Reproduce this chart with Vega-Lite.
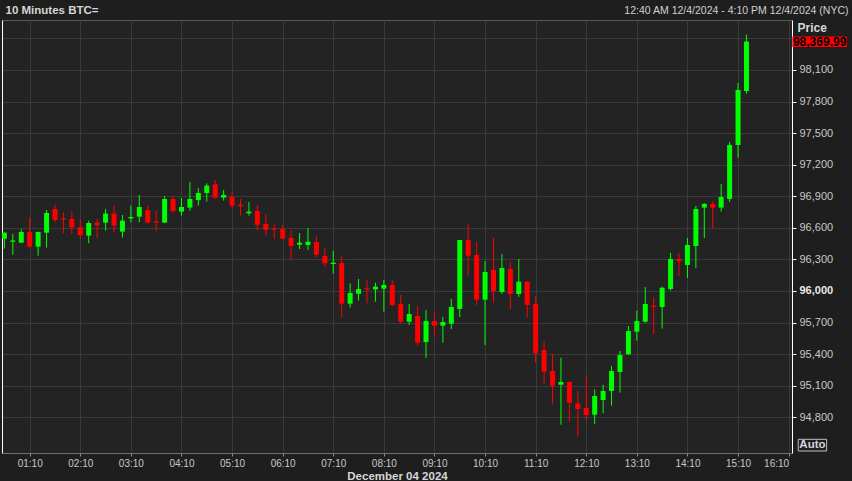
{
  "$schema": "https://vega.github.io/schema/vega-lite/v6.json",
  "width": 790,
  "height": 433,
  "autosize": {"type": "none"},
  "padding": {"left": 2, "top": 20, "right": 60, "bottom": 28},
  "background": "#1e1e1e",
  "config": {"view": {"fill": "#232323", "stroke": "#5a5a5a", "strokeWidth": 1}},
  "data": {"values": [
    {"t": "2024-12-04T00:40:00Z", "o": 96497, "h": 96556, "l": 96402, "c": 96554},
    {"t": "2024-12-04T00:50:00Z", "o": 96468, "h": 96541, "l": 96345, "c": 96480},
    {"t": "2024-12-04T01:00:00Z", "o": 96459, "h": 96586, "l": 96456, "c": 96560},
    {"t": "2024-12-04T01:10:00Z", "o": 96560, "h": 96697, "l": 96411, "c": 96421},
    {"t": "2024-12-04T01:20:00Z", "o": 96421, "h": 96563, "l": 96335, "c": 96560},
    {"t": "2024-12-04T01:30:00Z", "o": 96554, "h": 96769, "l": 96411, "c": 96741},
    {"t": "2024-12-04T01:40:00Z", "o": 96779, "h": 96820, "l": 96652, "c": 96674},
    {"t": "2024-12-04T01:50:00Z", "o": 96690, "h": 96747, "l": 96548, "c": 96678},
    {"t": "2024-12-04T02:00:00Z", "o": 96684, "h": 96760, "l": 96538, "c": 96605},
    {"t": "2024-12-04T02:10:00Z", "o": 96605, "h": 96681, "l": 96494, "c": 96529},
    {"t": "2024-12-04T02:20:00Z", "o": 96526, "h": 96668, "l": 96453, "c": 96646},
    {"t": "2024-12-04T02:30:00Z", "o": 96649, "h": 96684, "l": 96503, "c": 96624},
    {"t": "2024-12-04T02:40:00Z", "o": 96649, "h": 96779, "l": 96573, "c": 96735},
    {"t": "2024-12-04T02:50:00Z", "o": 96735, "h": 96811, "l": 96554, "c": 96621},
    {"t": "2024-12-04T03:00:00Z", "o": 96564, "h": 96722, "l": 96507, "c": 96668},
    {"t": "2024-12-04T03:10:00Z", "o": 96690, "h": 96811, "l": 96652, "c": 96703},
    {"t": "2024-12-04T03:20:00Z", "o": 96706, "h": 96912, "l": 96652, "c": 96798},
    {"t": "2024-12-04T03:30:00Z", "o": 96769, "h": 96811, "l": 96643, "c": 96649},
    {"t": "2024-12-04T03:40:00Z", "o": 96661, "h": 96763, "l": 96570, "c": 96649},
    {"t": "2024-12-04T03:50:00Z", "o": 96649, "h": 96903, "l": 96646, "c": 96874},
    {"t": "2024-12-04T04:00:00Z", "o": 96874, "h": 96906, "l": 96747, "c": 96760},
    {"t": "2024-12-04T04:10:00Z", "o": 96754, "h": 96884, "l": 96716, "c": 96798},
    {"t": "2024-12-04T04:20:00Z", "o": 96792, "h": 97036, "l": 96763, "c": 96874},
    {"t": "2024-12-04T04:30:00Z", "o": 96864, "h": 96979, "l": 96811, "c": 96931},
    {"t": "2024-12-04T04:40:00Z", "o": 96931, "h": 97023, "l": 96849, "c": 97001},
    {"t": "2024-12-04T04:50:00Z", "o": 97014, "h": 97055, "l": 96880, "c": 96887},
    {"t": "2024-12-04T05:00:00Z", "o": 96887, "h": 96960, "l": 96858, "c": 96912},
    {"t": "2024-12-04T05:10:00Z", "o": 96893, "h": 96937, "l": 96785, "c": 96811},
    {"t": "2024-12-04T05:20:00Z", "o": 96820, "h": 96874, "l": 96716, "c": 96806},
    {"t": "2024-12-04T05:30:00Z", "o": 96738, "h": 96845, "l": 96716, "c": 96754},
    {"t": "2024-12-04T05:40:00Z", "o": 96760, "h": 96817, "l": 96579, "c": 96630},
    {"t": "2024-12-04T05:50:00Z", "o": 96637, "h": 96731, "l": 96526, "c": 96579},
    {"t": "2024-12-04T06:00:00Z", "o": 96594, "h": 96633, "l": 96494, "c": 96582},
    {"t": "2024-12-04T06:10:00Z", "o": 96589, "h": 96627, "l": 96491, "c": 96497},
    {"t": "2024-12-04T06:20:00Z", "o": 96503, "h": 96576, "l": 96301, "c": 96427},
    {"t": "2024-12-04T06:30:00Z", "o": 96440, "h": 96551, "l": 96399, "c": 96459},
    {"t": "2024-12-04T06:40:00Z", "o": 96437, "h": 96598, "l": 96389, "c": 96468},
    {"t": "2024-12-04T06:50:00Z", "o": 96465, "h": 96526, "l": 96316, "c": 96345},
    {"t": "2024-12-04T07:00:00Z", "o": 96332, "h": 96408, "l": 96231, "c": 96263},
    {"t": "2024-12-04T07:10:00Z", "o": 96256, "h": 96380, "l": 96164, "c": 96269},
    {"t": "2024-12-04T07:20:00Z", "o": 96266, "h": 96329, "l": 95746, "c": 95879},
    {"t": "2024-12-04T07:30:00Z", "o": 95879, "h": 96072, "l": 95841, "c": 95981},
    {"t": "2024-12-04T07:40:00Z", "o": 95974, "h": 96114, "l": 95908, "c": 96019},
    {"t": "2024-12-04T07:50:00Z", "o": 96025, "h": 96104, "l": 95882, "c": 96013},
    {"t": "2024-12-04T08:00:00Z", "o": 96015, "h": 96079, "l": 95898, "c": 96041},
    {"t": "2024-12-04T08:10:00Z", "o": 96022, "h": 96104, "l": 95803, "c": 96057},
    {"t": "2024-12-04T08:20:00Z", "o": 96057, "h": 96104, "l": 95854, "c": 95867},
    {"t": "2024-12-04T08:30:00Z", "o": 95876, "h": 95962, "l": 95689, "c": 95708},
    {"t": "2024-12-04T08:40:00Z", "o": 95708, "h": 95876, "l": 95676, "c": 95781},
    {"t": "2024-12-04T08:50:00Z", "o": 95762, "h": 95857, "l": 95477, "c": 95509},
    {"t": "2024-12-04T09:00:00Z", "o": 95515, "h": 95819, "l": 95366, "c": 95714},
    {"t": "2024-12-04T09:10:00Z", "o": 95714, "h": 95800, "l": 95566, "c": 95670},
    {"t": "2024-12-04T09:20:00Z", "o": 95670, "h": 95753, "l": 95509, "c": 95705},
    {"t": "2024-12-04T09:30:00Z", "o": 95689, "h": 95924, "l": 95638, "c": 95848},
    {"t": "2024-12-04T09:40:00Z", "o": 95829, "h": 96486, "l": 95752, "c": 96484},
    {"t": "2024-12-04T09:50:00Z", "o": 96484, "h": 96636, "l": 96145, "c": 96335},
    {"t": "2024-12-04T10:00:00Z", "o": 96342, "h": 96465, "l": 95867, "c": 95917},
    {"t": "2024-12-04T10:10:00Z", "o": 95917, "h": 96285, "l": 95486, "c": 96180},
    {"t": "2024-12-04T10:20:00Z", "o": 96199, "h": 96503, "l": 95886, "c": 95999},
    {"t": "2024-12-04T10:30:00Z", "o": 95990, "h": 96351, "l": 95971, "c": 96218},
    {"t": "2024-12-04T10:40:00Z", "o": 96209, "h": 96278, "l": 95829, "c": 95971},
    {"t": "2024-12-04T10:50:00Z", "o": 95971, "h": 96304, "l": 95943, "c": 96088},
    {"t": "2024-12-04T11:00:00Z", "o": 96088, "h": 96095, "l": 95749, "c": 95867},
    {"t": "2024-12-04T11:10:00Z", "o": 95876, "h": 95952, "l": 95318, "c": 95407},
    {"t": "2024-12-04T11:20:00Z", "o": 95439, "h": 95524, "l": 95119, "c": 95233},
    {"t": "2024-12-04T11:30:00Z", "o": 95239, "h": 95404, "l": 94929, "c": 95100},
    {"t": "2024-12-04T11:40:00Z", "o": 95109, "h": 95366, "l": 94729, "c": 95135},
    {"t": "2024-12-04T11:50:00Z", "o": 95135, "h": 95140, "l": 94761, "c": 94938},
    {"t": "2024-12-04T12:00:00Z", "o": 94929, "h": 95049, "l": 94615, "c": 94878},
    {"t": "2024-12-04T12:10:00Z", "o": 94888, "h": 95201, "l": 94774, "c": 94821},
    {"t": "2024-12-04T12:20:00Z", "o": 94824, "h": 95065, "l": 94736, "c": 95002},
    {"t": "2024-12-04T12:30:00Z", "o": 94964, "h": 95109, "l": 94837, "c": 95049},
    {"t": "2024-12-04T12:40:00Z", "o": 95049, "h": 95287, "l": 94910, "c": 95239},
    {"t": "2024-12-04T12:50:00Z", "o": 95230, "h": 95429, "l": 95033, "c": 95391},
    {"t": "2024-12-04T13:00:00Z", "o": 95398, "h": 95667, "l": 95391, "c": 95619},
    {"t": "2024-12-04T13:10:00Z", "o": 95613, "h": 95813, "l": 95528, "c": 95714},
    {"t": "2024-12-04T13:20:00Z", "o": 95708, "h": 96038, "l": 95695, "c": 95876},
    {"t": "2024-12-04T13:30:00Z", "o": 95860, "h": 95939, "l": 95591, "c": 95848},
    {"t": "2024-12-04T13:40:00Z", "o": 95848, "h": 96041, "l": 95642, "c": 96031},
    {"t": "2024-12-04T13:50:00Z", "o": 96019, "h": 96361, "l": 96003, "c": 96304},
    {"t": "2024-12-04T14:00:00Z", "o": 96304, "h": 96361, "l": 96142, "c": 96282},
    {"t": "2024-12-04T14:10:00Z", "o": 96247, "h": 96503, "l": 96123, "c": 96437},
    {"t": "2024-12-04T14:20:00Z", "o": 96427, "h": 96808, "l": 96218, "c": 96779},
    {"t": "2024-12-04T14:30:00Z", "o": 96792, "h": 96836, "l": 96503, "c": 96827},
    {"t": "2024-12-04T14:40:00Z", "o": 96827, "h": 96852, "l": 96598, "c": 96792},
    {"t": "2024-12-04T14:50:00Z", "o": 96792, "h": 97017, "l": 96754, "c": 96893},
    {"t": "2024-12-04T15:00:00Z", "o": 96874, "h": 97416, "l": 96846, "c": 97387},
    {"t": "2024-12-04T15:10:00Z", "o": 97387, "h": 97977, "l": 97267, "c": 97910},
    {"t": "2024-12-04T15:20:00Z", "o": 97900, "h": 98436, "l": 97875, "c": 98369.99}
  ]},
  "layer": [
    {
      "mark": {"type": "rule", "strokeWidth": 1},
      "encoding": {
        "x": {
          "field": "t", "type": "temporal",
          "scale": {"type": "utc", "padding": 0, "nice": false, "domain": [
            {"year": 2024, "month": 12, "date": 4, "hours": 0, "minutes": 37, "seconds": 10, "utc": true},
            {"year": 2024, "month": 12, "date": 4, "hours": 16, "minutes": 14, "seconds": 0, "utc": true}
          ]},
          "axis": {
            "orient": "bottom",
            "values": [
              {"year": 2024, "month": 12, "date": 4, "hours": 1, "minutes": 10, "utc": true},
              {"year": 2024, "month": 12, "date": 4, "hours": 2, "minutes": 10, "utc": true},
              {"year": 2024, "month": 12, "date": 4, "hours": 3, "minutes": 10, "utc": true},
              {"year": 2024, "month": 12, "date": 4, "hours": 4, "minutes": 10, "utc": true},
              {"year": 2024, "month": 12, "date": 4, "hours": 5, "minutes": 10, "utc": true},
              {"year": 2024, "month": 12, "date": 4, "hours": 6, "minutes": 10, "utc": true},
              {"year": 2024, "month": 12, "date": 4, "hours": 7, "minutes": 10, "utc": true},
              {"year": 2024, "month": 12, "date": 4, "hours": 8, "minutes": 10, "utc": true},
              {"year": 2024, "month": 12, "date": 4, "hours": 9, "minutes": 10, "utc": true},
              {"year": 2024, "month": 12, "date": 4, "hours": 10, "minutes": 10, "utc": true},
              {"year": 2024, "month": 12, "date": 4, "hours": 11, "minutes": 10, "utc": true},
              {"year": 2024, "month": 12, "date": 4, "hours": 12, "minutes": 10, "utc": true},
              {"year": 2024, "month": 12, "date": 4, "hours": 13, "minutes": 10, "utc": true},
              {"year": 2024, "month": 12, "date": 4, "hours": 14, "minutes": 10, "utc": true},
              {"year": 2024, "month": 12, "date": 4, "hours": 15, "minutes": 10, "utc": true},
              {"year": 2024, "month": 12, "date": 4, "hours": 16, "minutes": 10, "utc": true}
            ],
            "labelExpr": "utcFormat(datum.value, '%H:%M')",
            "grid": true, "gridColor": "#3a3a3a", "gridWidth": 1,
            "domainColor": "#707070", "tickColor": "#8a8a8a", "tickSize": 3,
            "labelPadding": 2, "labelColor": "#c8c8c8", "labelFont": "Liberation Sans Narrow, Liberation Sans", "labelFontSize": 10,
            "labelFlush": 5, "labelOverlap": false,
            "title": "December 04 2024", "titleFont": "Liberation Sans Narrow, Liberation Sans", "titleFontSize": 11.5, "titleFontWeight": "bold", "titleColor": "#d6d6d6", "titlePadding": 2
          }
        },
        "y": {
          "field": "l", "type": "quantitative",
          "scale": {"domain": [94460, 98575], "nice": false, "zero": false, "padding": 0},
          "axis": {
            "orient": "right",
            "values": [94800, 95100, 95400, 95700, 96000, 96300, 96600, 96900, 97200, 97500, 97800, 98100, 98400],
            "labelExpr": "datum.value > 98200 ? '' : format(datum.value, ',')",
            "grid": true, "gridColor": "#3a3a3a", "gridWidth": 1,
            "domainColor": "#ffffff", "tickColor": "#ffffff", "tickSize": 4,
            "labelPadding": 3, "labelColor": {"expr": "datum.value == 96000 ? '#e8e8e8' : '#c8c8c8'"},
            "labelFont": "Liberation Sans", "labelFontSize": 11,
            "labelFontWeight": {"expr": "datum.value == 96000 ? 'bold' : 'normal'"},
            "title": "Price", "titleAngle": 0, "titleX": 5, "titleY": 7, "titleAlign": "left", "titleBaseline": "middle",
            "titleFont": "Liberation Sans", "titleFontSize": 12, "titleFontWeight": "bold", "titleColor": "#d6d6d6"
          }
        },
        "y2": {"field": "h"},
        "color": {"condition": {"test": "datum.c >= datum.o", "value": "#00ff00"}, "value": "#ff0000"}
      }
    },
    {
      "mark": {"type": "bar", "width": 5},
      "encoding": {
        "x": {
          "field": "t", "type": "temporal",
          "axis": {
            "orient": "top", "labels": false, "ticks": false, "domain": false, "grid": false,
            "title": "12:40 AM 12/4/2024 - 4:10 PM 12/4/2024 (NYC)",
            "titleX": 846, "titleY": -10, "titleAlign": "right", "titleBaseline": "middle", "titleAnchor": null,
            "titleFont": "Liberation Sans", "titleFontSize": 10.5, "titleFontWeight": "normal", "titleColor": "#d0d0d0"
          }
        },
        "y": {
          "field": "o", "type": "quantitative",
          "axis": {
            "orient": "left", "labels": false, "ticks": false, "grid": false, "domainColor": "#ffffff",
            "title": "10 Minutes BTC=", "titleAngle": 0, "titleX": 3, "titleY": -10, "titleAlign": "left", "titleBaseline": "middle", "titleAnchor": null,
            "titleFont": "Liberation Sans", "titleFontSize": 11.5, "titleFontWeight": "bold", "titleColor": "#d6d6d6"
          }
        },
        "y2": {"field": "c"},
        "color": {"condition": {"test": "datum.c >= datum.o", "value": "#00ff00"}, "value": "#ff0000"}
      }
    },
    {
      "data": {"values": [{}]},
      "mark": {"type": "rect", "color": "#ff0000"},
      "encoding": {
        "x": {"datum": {"year": 2024, "month": 12, "date": 4, "hours": 16, "minutes": 14, "seconds": 20, "utc": true}, "type": "temporal", "axis": null},
        "x2": {"datum": {"year": 2024, "month": 12, "date": 4, "hours": 17, "minutes": 19, "seconds": 8, "utc": true}},
        "y": {"datum": 98318, "type": "quantitative", "axis": null},
        "y2": {"datum": 98418}
      }
    },
    {
      "data": {"values": [{}]},
      "mark": {"type": "text", "align": "left", "baseline": "middle", "font": "Liberation Sans", "fontSize": 12, "fontWeight": "bold", "color": "#000000"},
      "encoding": {
        "x": {"datum": {"year": 2024, "month": 12, "date": 4, "hours": 16, "minutes": 15, "seconds": 6, "utc": true}, "type": "temporal", "axis": null},
        "y": {"datum": 98369.99, "type": "quantitative", "axis": null},
        "text": {"datum": 98369.99, "type": "quantitative", "format": ",.2f"}
      }
    },
    {
      "data": {"values": [{}]},
      "mark": {"type": "rect", "fill": "#1e1e1e", "stroke": "#c0c0c0", "strokeWidth": 1},
      "encoding": {
        "x": {"datum": {"year": 2024, "month": 12, "date": 4, "hours": 16, "minutes": 21, "seconds": 24, "utc": true}, "type": "temporal", "axis": null},
        "x2": {"datum": {"year": 2024, "month": 12, "date": 4, "hours": 16, "minutes": 55, "seconds": 3, "utc": true}},
        "y": {"datum": 94479, "type": "quantitative", "axis": null},
        "y2": {"datum": 94590}
      }
    },
    {
      "data": {"values": [{}]},
      "mark": {"type": "text", "align": "center", "baseline": "middle", "font": "Liberation Sans", "fontSize": 11.5, "fontWeight": "bold", "color": "#d4d4dc"},
      "encoding": {
        "x": {"datum": {"year": 2024, "month": 12, "date": 4, "hours": 16, "minutes": 38, "seconds": 14, "utc": true}, "type": "temporal", "axis": null},
        "y": {"datum": 94536, "type": "quantitative", "axis": null},
        "text": {"value": "Auto"}
      }
    }
  ],
  "resolve": {"axis": {"x": "independent", "y": "independent"}}
}
